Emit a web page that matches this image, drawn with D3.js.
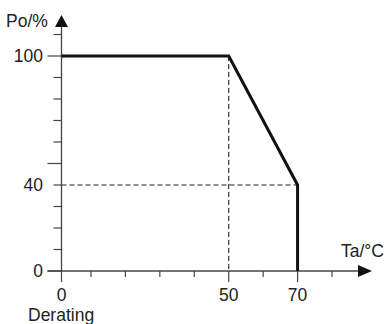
<!DOCTYPE html>
<html><head><meta charset="utf-8">
<script src="https://cdn.jsdelivr.net/npm/d3@7"></script>
<style>
html,body{margin:0;padding:0;background:#fff;}
svg{display:block;}
text{font-family:"Liberation Sans",Arial,Helvetica,sans-serif;fill:#222;}
</style></head>
<body>
<svg id="c" width="385" height="324"></svg>
<script>
// ---- data ----
const curveTa = [0, 50, 70, 70];
const curvePo = [100, 100, 40, 0];
const xTicks = [0, 10, 20, 30, 40, 50, 60, 70, 80];
const xMajor = [0, 50, 70];
const xLabels = [0, 50, 70];
const yTicks = [0, 10, 20, 30, 40, 50, 60, 70, 80, 90, 100, 110];
const yMajor = [0, 50, 100];
const yLabels = [0, 40, 100];
const guideV = [50];   // dashed vertical at Ta=50 from Po=100
const guideH = [40];   // dashed horizontal at Po=40 to Ta=70
const xTitle = "Ta/°C", yTitle = "Po/%", caption = "Derating";

const svg = d3.select("#c");
const x = d3.scaleLinear().domain([0, 10, 80]).range([61.5, 91, 332]);
const y = d3.scaleLinear().domain([0, 100]).range([271, 56]);
const axisCol = "#444";
const fs = 17.5;

// dashed guides
svg.selectAll(".gv").data(guideV).enter().append("line")
  .attr("x1", d => x(d)).attr("x2", d => x(d))
  .attr("y1", y(100)).attr("y2", y(0))
  .attr("stroke", "#222").attr("stroke-width", 1.1).attr("stroke-dasharray", "5,3");
svg.selectAll(".gh").data(guideH).enter().append("line")
  .attr("x1", x(0)).attr("x2", x(70))
  .attr("y1", d => y(d)).attr("y2", d => y(d))
  .attr("stroke", "#222").attr("stroke-width", 1.1).attr("stroke-dasharray", "5,3");

// axes lines
svg.append("line").attr("x1", x(0)).attr("x2", x(0)).attr("y1", y(110) - 8).attr("y2", y(0))
  .attr("stroke", axisCol).attr("stroke-width", 1.3);
svg.append("line").attr("x1", x(0) - 14).attr("x2", 359).attr("y1", y(0)).attr("y2", y(0))
  .attr("stroke", axisCol).attr("stroke-width", 1.3);

// arrowheads
svg.append("path").attr("d", `M${x(0)},15 L${x(0) - 6.5},27 L${x(0) + 6.5},27 Z`).attr("fill", "#111");
svg.append("path").attr("d", `M372,${y(0)} L358,${y(0) - 6} L358,${y(0) + 6} Z`).attr("fill", "#111");

// y ticks
svg.selectAll(".yt").data(yTicks).enter().append("line")
  .attr("x1", d => x(0) - (yMajor.includes(d) ? 14 : 8)).attr("x2", x(0))
  .attr("y1", d => y(d)).attr("y2", d => y(d))
  .attr("stroke", axisCol).attr("stroke-width", 1.2);
// x ticks
svg.selectAll(".xt").data(xTicks).enter().append("line")
  .attr("x1", d => x(d)).attr("x2", d => x(d))
  .attr("y1", y(0)).attr("y2", d => y(0) + (xMajor.includes(d) ? 11 : 6))
  .attr("stroke", axisCol).attr("stroke-width", 1.2);

// tick labels
svg.selectAll(".yl").data(yLabels).enter().append("text")
  .attr("x", 43).attr("y", d => y(d)).attr("dy", "0.36em")
  .attr("text-anchor", "end").attr("font-size", fs).text(d => d);
svg.selectAll(".xl").data(xLabels).enter().append("text")
  .attr("x", d => x(d)).attr("y", 300.5)
  .attr("text-anchor", "middle").attr("font-size", fs).text(d => d);

// titles
svg.append("text").attr("x", 6).attr("y", 26.5).attr("font-size", fs).text(yTitle);
svg.append("text").attr("x", 384).attr("y", 256.5).attr("text-anchor", "end").attr("font-size", fs).text(xTitle);
svg.append("text").attr("x", 28).attr("y", 320.5).attr("font-size", fs).text(caption);

// derating curve
const line = d3.line().x((d, i) => x(curveTa[i])).y((d, i) => y(curvePo[i]));
svg.append("path").datum(curveTa).attr("d", line)
  .attr("fill", "none").attr("stroke", "#111").attr("stroke-width", 3)
  .attr("stroke-linejoin", "miter");
</script>
</body></html>
